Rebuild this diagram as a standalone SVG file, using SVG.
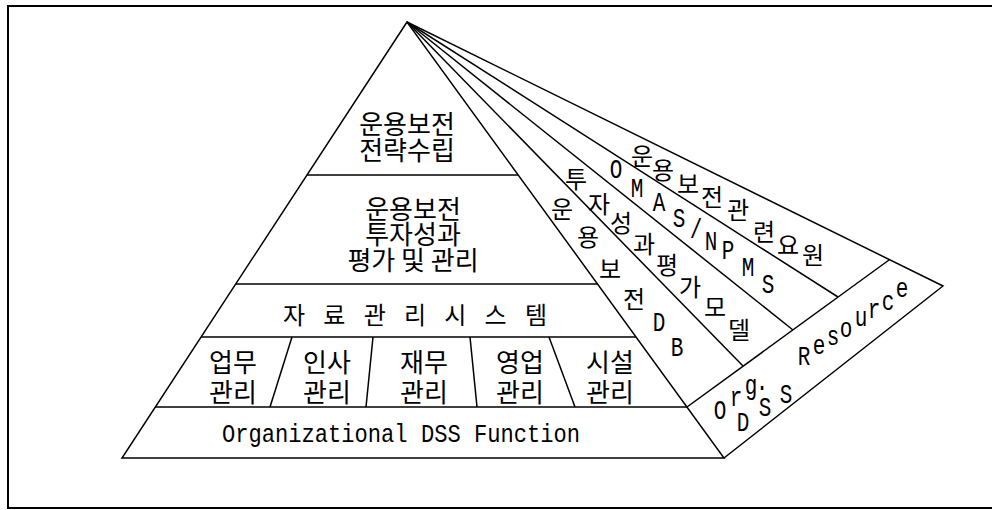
<svg xmlns="http://www.w3.org/2000/svg" width="992" height="510" viewBox="0 0 992 510">
<style>
.ln{fill:none;stroke:#000;stroke-width:1.5;stroke-linejoin:miter}
.fr{fill:none;stroke:#000;stroke-width:2}
.ko{font-family:"Noto Sans CJK KR","Noto Sans",sans-serif;font-size:26px;fill:#000;text-anchor:middle;dominant-baseline:central}
.ks{font-family:"Noto Sans CJK KR","Noto Sans",sans-serif;font-size:24px;fill:#000;text-anchor:middle;dominant-baseline:central}
.mo{font-family:"Liberation Mono","DejaVu Sans Mono",monospace;font-size:26px;fill:#000}
.ms{font-family:"Liberation Mono","DejaVu Sans Mono",monospace;font-size:28px;fill:#000;text-anchor:middle;dominant-baseline:central}
</style>
<rect width="992" height="510" fill="#fff"/>
<g id="frame">
<polyline class="fr" points="992,6 8,6 8,508 992,508"/>
</g>
<g id="connectors">
<polygon class="ln" points="407,22 122,458 724,458"/>
<line class="ln" x1="307" y1="175" x2="518" y2="175"/>
<line class="ln" x1="236" y1="284" x2="598" y2="284"/>
<line class="ln" x1="201" y1="337" x2="636" y2="337"/>
<line class="ln" x1="155" y1="407" x2="687" y2="407"/>
<line class="ln" x1="292" y1="337" x2="270" y2="407"/>
<line class="ln" x1="373" y1="337" x2="366" y2="407"/>
<line class="ln" x1="470" y1="337" x2="477" y2="407"/>
<line class="ln" x1="549" y1="337" x2="575" y2="407"/>
<line class="ln" x1="407" y1="22" x2="743" y2="366"/>
<line class="ln" x1="407" y1="22" x2="793" y2="330"/>
<line class="ln" x1="407" y1="22" x2="838" y2="297"/>
<polyline class="ln" points="407,22 943,286 724,458"/>
<line class="ln" x1="687" y1="407" x2="889" y2="260"/>
</g>
<g id="tier-strategy">
<text class="ko" x="407" y="122">운용보전</text>
<text class="ko" x="407" y="148">전략수립</text>
</g>
<g id="tier-evaluation">
<text class="ko" x="413" y="207">운용보전</text>
<text class="ko" x="413" y="232">투자성과</text>
<text class="ko" x="413" y="258">평가 및 관리</text>
</g>
<g id="tier-data">
<text class="ks" x="283" y="313" style="text-anchor:start" textLength="264" lengthAdjust="spacing">자 료 관 리 시 스 템</text>
</g>
<g id="func-work">
<text class="ko" x="233" y="360">업무</text>
<text class="ko" x="233" y="390">관리</text>
</g>
<g id="func-hr">
<text class="ko" x="327" y="360">인사</text>
<text class="ko" x="327" y="390">관리</text>
</g>
<g id="func-finance">
<text class="ko" x="424" y="360">재무</text>
<text class="ko" x="424" y="390">관리</text>
</g>
<g id="func-sales">
<text class="ko" x="520" y="360">영업</text>
<text class="ko" x="520" y="390">관리</text>
</g>
<g id="func-facility">
<text class="ko" x="610" y="360">시설</text>
<text class="ko" x="610" y="390">관리</text>
</g>
<g id="tier-function">
<text class="mo" x="222" y="442" textLength="358" lengthAdjust="spacingAndGlyphs">Organizational DSS Function</text>
</g>
<g id="strip-db">
<text class="ks" x="562 588 610 634" y="207 235 267 297">운용보전</text>
<text class="ms" transform="scale(0.75,1)" x="878.7 902.7" y="323 348">DB</text>
</g>
<g id="strip-model">
<text class="ks" x="576 599 621 644 667 690 715 739" y="177 202 221 242 263 285 305 328">투자성과평가모델</text>
</g>
<g id="strip-omas">
<text class="ms" transform="scale(0.75,1)" x="821.3 849.3 878.7 905.3 928 948 970.7 997.3 1024" y="170 189 203 219 230 242 251 268 285">OMAS/NPMS</text>
</g>
<g id="strip-staff">
<text class="ks" x="642 663 688 712 738 764 788 813" y="154 168 182 195 208 230 243 253">운용보전관련요원</text>
</g>
<g id="strip-resource">
<text class="ms" transform="scale(0.75,1)" x="960 981.3 1001.3 1016" y="411 398 386 382">Org.</text>
<text class="ms" transform="scale(0.75,1)" x="990.7 1020 1048" y="423 408 395">DSS</text>
<text class="ms" transform="scale(0.75,1)" x="1072 1092 1110.7 1128 1148 1165.3 1184 1202.7" y="357 346 337 329 318 310 302 289">Resource</text>
</g>
</svg>
